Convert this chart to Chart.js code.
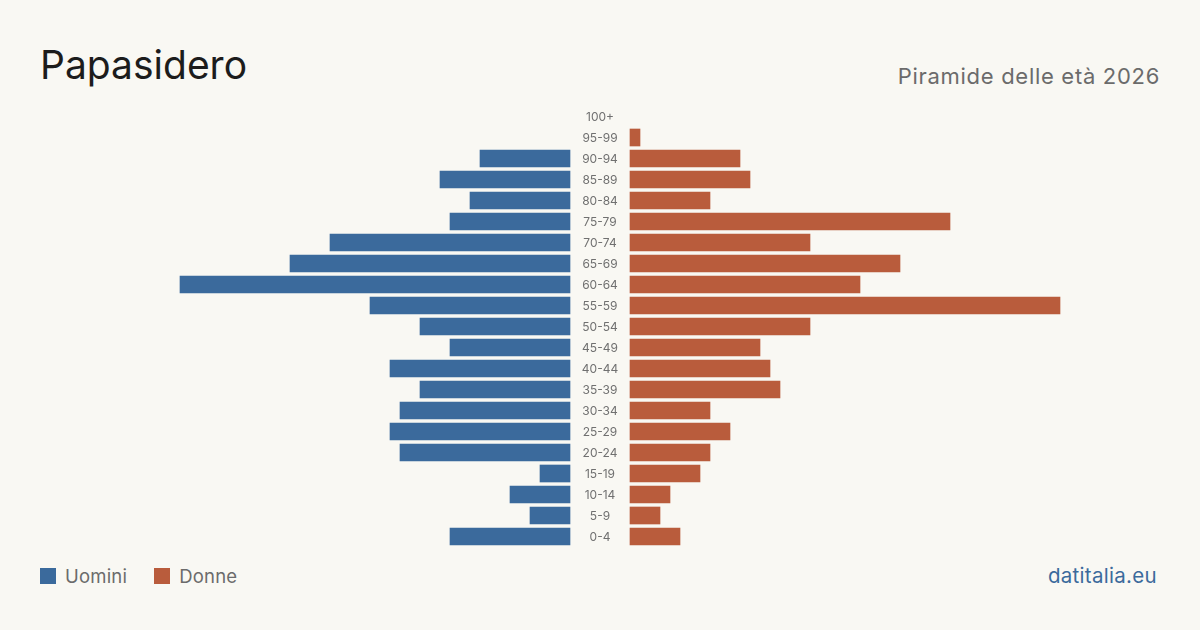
<!DOCTYPE html>
<html>
<head>
<meta charset="utf-8">
<script src="https://cdn.jsdelivr.net/npm/chart.js@4/dist/chart.umd.min.js"></script>
<style>
  html, body { margin: 0; padding: 0; }
  body { width: 1200px; height: 630px; background: #f9f8f3; position: relative; overflow: hidden; font-family: Inter, "Noto Sans", sans-serif; }
  #title { position: absolute; left: 40px; top: 41px; font-size: 39px; color: #1c1c1c; line-height: 48px; }
  #subtitle { position: absolute; right: 40px; top: 62px; font-size: 22px; color: #6b6b6b; line-height: 28px; letter-spacing: 0.7px; }
  #wrap { position: absolute; left: 40px; top: 106px; width: 1120px; height: 441px; }
  #legend { position: absolute; left: 40px; top: 564px; font-size: 18.5px; color: #6b6b6b; line-height: 24px; display: flex; align-items: center; letter-spacing: 0.2px; }
  .sw { width: 16px; height: 16px; display: inline-block; margin-right: 9px; }
  .item { display: flex; align-items: center; margin-right: 27px; }
  #source { position: absolute; right: 43px; top: 563px; font-size: 20.5px; color: #3b6a9c; line-height: 26px; letter-spacing: 0.3px; }
</style>
</head>
<body>
<div id="title">Papasidero</div>
<div id="subtitle">Piramide delle età 2026</div>
<div id="wrap"><canvas id="c"></canvas></div>
<div id="legend">
  <div class="item"><span class="sw" style="background:#3b6a9c"></span>Uomini</div>
  <div class="item"><span class="sw" style="background:#b95c3c"></span>Donne</div>
</div>
<div id="source">datitalia.eu</div>
<script>
const ageGroups = ["100+","95-99","90-94","85-89","80-84","75-79","70-74","65-69","60-64","55-59","50-54","45-49","40-44","35-39","30-34","25-29","20-24","15-19","10-14","5-9","0-4"];
const men   = [0, 0, 9, 13, 10, 12, 24, 28, 39, 20, 15, 12, 18, 15, 17, 18, 17, 3, 6, 4, 12];
const women = [0, 1, 11, 12, 8, 32, 18, 27, 23, 43, 18, 13, 14, 15, 8, 10, 8, 7, 4, 3, 5];
const GAP = 3;
const colorMen = "#3b6a9c";
const colorWomen = "#b95c3c";

const centerLabels = {
  id: "centerLabels",
  afterDatasetsDraw(chart) {
    const ctx = chart.ctx;
    const y = chart.scales.y;
    const x = chart.scales.x;
    const cx = x.getPixelForValue(0);
    ctx.save();
    ctx.font = "12px Inter, 'Noto Sans', sans-serif";
    ctx.fillStyle = "#707070";
    ctx.textAlign = "center";
    ctx.textBaseline = "middle";
    chart.data.labels.forEach((l, i) => {
      ctx.fillText(l, cx, y.getPixelForValue(i) + 0.5);
    });
    ctx.restore();
  }
};

new Chart(document.getElementById("c"), {
  type: "bar",
  data: {
    labels: ageGroups,
    datasets: [
      { label: "Uomini", data: men.map(v => v > 0 ? [-(GAP + v), -GAP] : null), backgroundColor: colorMen, grouped: false, barThickness: 17, borderSkipped: false },
      { label: "Donne", data: women.map(v => v > 0 ? [GAP, GAP + v] : null), backgroundColor: colorWomen, grouped: false, barThickness: 17, borderSkipped: false }
    ]
  },
  options: {
    indexAxis: "y",
    responsive: true,
    maintainAspectRatio: false,
    animation: false,
    layout: { padding: 0 },
    plugins: { legend: { display: false }, tooltip: { enabled: false } },
    scales: {
      x: { type: "linear", min: -56, max: 56, display: false },
      y: { type: "category", display: false, offset: true }
    }
  },
  plugins: [centerLabels]
});
</script>
</body>
</html>
